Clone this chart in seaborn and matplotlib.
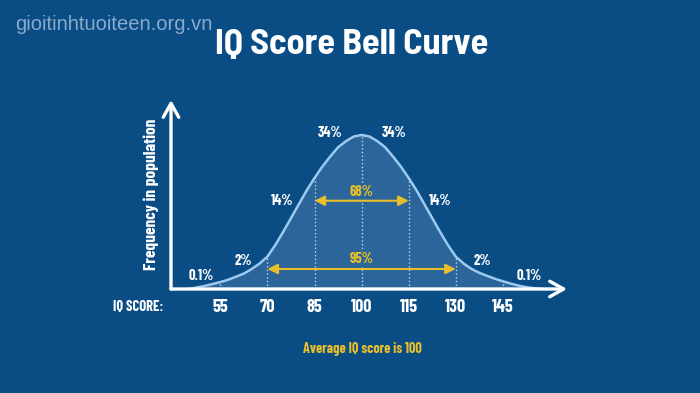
import numpy as np
import pandas as pd
import seaborn as sns
import matplotlib.pyplot as plt
from matplotlib import font_manager

# curve (height relative to the peak)
iq_scores = [45, 47.5, 50, 52.5, 55, 57.5, 60, 62.5, 65, 67.5, 70, 72.5, 75, 77.5,
             80, 82.5, 85, 87.5, 90, 92.5, 95, 97.5, 100, 102.5, 105, 107.5, 110,
             112.5, 115, 117.5, 120, 122.5, 125, 127.5, 130, 132.5, 135, 137.5, 140,
             142.5, 145, 147.5, 150, 152.5, 155, 158]
curve_height = [0.0, 0.01, 0.02, 0.032, 0.045, 0.06, 0.08, 0.1, 0.13, 0.165, 0.21, 0.285,
                0.37, 0.46, 0.55, 0.64, 0.72, 0.795, 0.86, 0.92, 0.96, 0.99, 1.0, 0.99,
                0.96, 0.92, 0.86, 0.795, 0.72, 0.64, 0.55, 0.46, 0.37, 0.285, 0.21, 0.165,
                0.13, 0.105, 0.085, 0.066, 0.05, 0.035, 0.022, 0.012, 0.005, 0.0]

tick_scores = [55, 70, 85, 100, 115, 130, 145]
tick_labels = ['55', '70', '85', '100', '115', '130', '145']

band_labels = ['0.1%', '2%', '14%', '34%', '34%', '14%', '2%', '0.1%']
range_labels = ['68%', '95%']
range_bounds = [(85, 115), (70, 130)]

# label layout (IQ position, height)
band_x = [48.8, 62.2, 74.6, 89.9, 110.3, 124.9, 138.6, 153.3]
band_y = [0.085, 0.18, 0.57, 1.013, 1.013, 0.57, 0.18, 0.085]
range_arrow_y = [0.573, 0.13]
range_text_y = [0.63, 0.195]

bg = '#0a4d85'
fill = '#2c6599'
yellow = '#e8bf2a'
line_blue = '#9ccaf0'

sns.set_theme(style='white')
names = {f.name for f in font_manager.fontManager.ttflist}
narrow = next((n for n in ['Barlow Condensed', 'Roboto Condensed', 'Saira Condensed',
                           'Oswald', 'Archivo Narrow', 'Liberation Sans Narrow']
               if n in names), 'DejaVu Sans')
title_font = next((n for n in ['Barlow Semi Condensed', 'Roboto Condensed']
                   if n in names), narrow)
plain = 'Liberation Sans' if 'Liberation Sans' in names else 'DejaVu Sans'
plt.rcParams['font.family'] = [narrow, 'DejaVu Sans']

df = pd.DataFrame({'iq': iq_scores, 'h': curve_height})

fig = plt.figure(figsize=(7, 3.93), dpi=100, facecolor=bg)
ax = fig.add_axes([171 / 700, 104 / 393, 396 / 700, 189 / 393])
ax.set_facecolor('none')
ax.set_xlim(39.3, 165.4)
ax.set_ylim(0, 1.227)

ax.fill_between(df['iq'], df['h'], 0, color=fill, lw=0)
sns.lineplot(data=df, x='iq', y='h', ax=ax, color=line_blue, lw=1.8)

# dotted guides under the curve
h_at = df.set_index('iq')['h']
for t in tick_scores:
    ax.plot([t, t], [0, h_at[t]], ls=':', color='#b5d6f2', lw=1, zorder=2)

# range arrows
for lab, (a, b), ya, yt in zip(range_labels, range_bounds, range_arrow_y, range_text_y):
    ax.annotate('', xy=(a, ya), xytext=(b, ya), zorder=4,
                arrowprops=dict(arrowstyle='<|-|>,head_length=0.5,head_width=0.25',
                                color=yellow, lw=1.5, shrinkA=0, shrinkB=0))
    ax.text((a + b) / 2, yt, lab, color=yellow, fontsize=10.5, fontweight='bold',
            ha='center', va='center', zorder=3,
            bbox=dict(boxstyle='square,pad=0.05', fc=fill, ec='none'))

for lab, x, y in zip(band_labels, band_x, band_y):
    ax.text(x, y, lab, color='white', fontsize=10.5, fontweight='bold',
            ha='center', va='center')

# axes as arrows
arrow = dict(arrowstyle='->,head_length=0.5,head_width=0.28', color='white',
             lw=2.4, shrinkA=0, shrinkB=0, mutation_scale=20)
ax.annotate('', xy=(165.4, 0), xytext=(39.3, 0), arrowprops=arrow, annotation_clip=False)
ax.annotate('', xy=(39.3, 1.227), xytext=(39.3, 0), arrowprops=arrow, annotation_clip=False)

for s in ax.spines.values():
    s.set_visible(False)
ax.set_yticks([])
ax.set_xticks(tick_scores, tick_labels)
ax.tick_params(axis='x', length=0, pad=7, labelsize=13, labelcolor='white')
for t in ax.get_xticklabels():
    t.set_fontweight('bold')
ax.set_xlabel('')
ax.set_ylabel('')

ax.text(-0.082, -0.095, 'IQ SCORE:', transform=ax.transAxes, color='white',
        fontsize=10.5, fontweight='bold', ha='center', va='center')
ax.text(-0.0505, 0.503, 'Frequency in population', transform=ax.transAxes,
        rotation=90, color='white', fontsize=12.5, fontweight='bold',
        ha='center', va='center')

fig.text(352 / 700, 1 - 45 / 393, 'IQ Score Bell Curve', color='white',
         fontsize=26, fontweight='bold', family=[title_font, 'DejaVu Sans'],
         ha='center', va='center')
fig.text(15 / 700, 1 - 25 / 393, 'gioitinhtuoiteen.org.vn', color='#88aacb',
         fontsize=14.5, family=plain, ha='left', va='center')
fig.text(362.5 / 700, 1 - 349 / 393, 'Average IQ score is 100', color=yellow,
         fontsize=10.2, fontweight='bold', ha='center', va='center')

fig.savefig('out.png', dpi=100, facecolor=bg)
